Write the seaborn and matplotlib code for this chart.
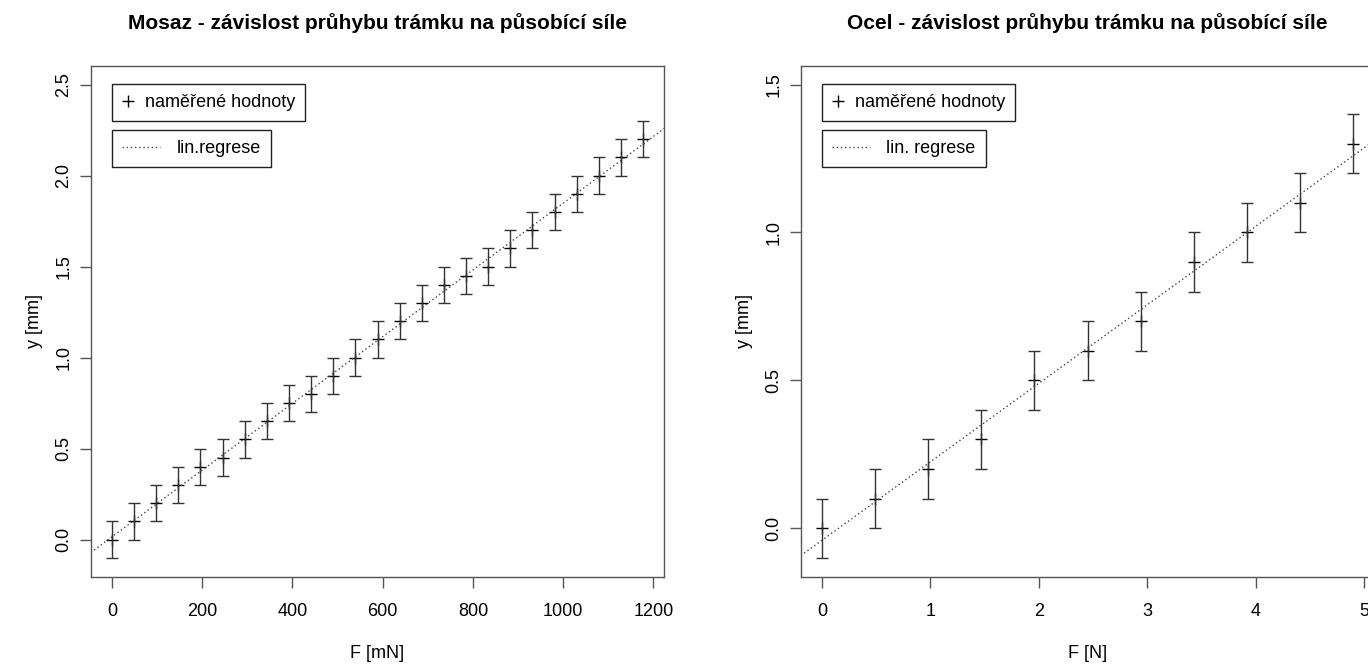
import numpy as np
import pandas as pd
import matplotlib
matplotlib.use("Agg")
import matplotlib.pyplot as plt
from matplotlib.lines import Line2D
import seaborn as sns

brass_F = [0, 49.05, 98.10, 147.15, 196.20, 245.25, 294.30, 343.35, 392.40, 441.45,
           490.50, 539.55, 588.60, 637.65, 686.70, 735.75, 784.80, 833.85, 882.90,
           931.95, 981.00, 1030.05, 1079.10, 1128.15, 1177.20]
brass_y = [0.0, 0.1, 0.2, 0.3, 0.4, 0.45, 0.55, 0.65, 0.75, 0.8, 0.9, 1.0, 1.1, 1.2,
           1.3, 1.4, 1.45, 1.5, 1.6, 1.7, 1.8, 1.9, 2.0, 2.1, 2.2]
steel_F = [0, 0.49, 0.98, 1.47, 1.96, 2.45, 2.94, 3.43, 3.92, 4.41, 4.90]
steel_y = [0.0, 0.1, 0.2, 0.3, 0.5, 0.6, 0.7, 0.9, 1.0, 1.1, 1.3]
y_err = 0.1

brass_xticks = [0, 200, 400, 600, 800, 1000, 1200]
brass_yticks = [0.0, 0.5, 1.0, 1.5, 2.0, 2.5]
steel_xticks = [0, 1, 2, 3, 4, 5]
steel_yticks = [0.0, 0.5, 1.0, 1.5]

sns.set_theme(style="white")
plt.rcParams['font.family'] = ['Liberation Sans', 'DejaVu Sans']
plt.rcParams['text.color'] = 'black'
plt.rcParams['axes.labelcolor'] = 'black'

AX_COL = '#555555'
W, H = 1368, 664
FS = 13


def panel(ax, F, y, title, xlab, leg_text, xticks, yticks, ylim):
    df = pd.DataFrame({'F': F, 'y': y})
    ax.errorbar(df['F'], df['y'], yerr=y_err, fmt='none', ecolor='#333333',
                elinewidth=1.0, capsize=4.3, capthick=1.0)
    sns.scatterplot(data=df, x='F', y='y', marker='+', color='black', s=70,
                    linewidth=1.0, ax=ax, legend=False)
    # linear regression line drawn across the whole axes
    k, q = np.polyfit(df['F'], df['y'], 1)
    ax.axline((0, q), slope=k, color='#444444', lw=1.0, linestyle=(0, (1, 2)))

    span = max(F) - min(F)
    ax.set_xlim(min(F) - 0.04 * span, max(F) + 0.04 * span)
    yspan = ylim[1] - ylim[0]
    ax.set_ylim(ylim[0] - 0.04 * yspan, ylim[1] + 0.04 * yspan)
    ax.set_xticks(xticks)
    ax.set_yticks(yticks)
    ax.set_xticklabels([str(t) for t in xticks])
    ax.set_yticklabels(['%.1f' % t for t in yticks], rotation=90, va='center')

    for s in ax.spines.values():
        s.set_color(AX_COL)
        s.set_linewidth(1.0)
    ax.tick_params(axis='both', direction='out', length=7.7, width=1.0,
                   color=AX_COL, labelsize=FS, labelcolor='black',
                   bottom=True, left=True)
    ax.tick_params(axis='x', pad=11)
    ax.tick_params(axis='y', pad=5.6)

    ax.set_xlabel(xlab, fontsize=FS)
    ax.set_ylabel('y [mm]', fontsize=FS)
    ax.xaxis.set_label_coords(0.5, -77 / 511)
    ax.xaxis.label.set_va('center')
    ax.yaxis.set_label_coords(-56 / 574, 0.5)
    ax.yaxis.label.set_va('center')
    ax.set_title(title, fontsize=15, fontweight='bold', y=1 + 43 / 511,
                 va='center', pad=0, color='black')

    h1 = Line2D([], [], marker='+', linestyle='none', color='black',
                markersize=9, markeredgewidth=1.0)
    h2 = Line2D([], [], color='#444444', lw=1.0, linestyle=(0, (1, 2)))
    leg1 = ax.legend([h1], ['naměřené hodnoty'], loc='upper left',
                     bbox_to_anchor=(21 / 574, 1 - 18.6 / 511), borderaxespad=0,
                     fancybox=False, framealpha=1, edgecolor='#222222',
                     fontsize=FS, handlelength=0.67, handletextpad=0.6,
                     borderpad=0.55)
    leg1.get_frame().set_linewidth(1.0)
    ax.add_artist(leg1)
    leg2 = ax.legend([h2], [leg_text], loc='upper left',
                     bbox_to_anchor=(21 / 574, 1 - 64.3 / 511), borderaxespad=0,
                     fancybox=False, framealpha=1, edgecolor='#222222',
                     fontsize=FS, handlelength=2.1, handletextpad=0.93,
                     borderpad=0.55)
    leg2.get_frame().set_linewidth(1.0)


fig = plt.figure(figsize=(W / 100, H / 100), dpi=100)
ax1 = fig.add_axes([90.7 / W, 1 - 576.7 / H, 573.6 / W, 511 / H])
ax2 = fig.add_axes([800.7 / W, 1 - 576.7 / H, 573.6 / W, 511 / H])

panel(ax1, brass_F, brass_y, 'Mosaz - závislost průhybu trámku na působící síle',
      'F [mN]', 'lin.regrese', brass_xticks, brass_yticks, (-0.1, 2.5))
panel(ax2, steel_F, steel_y, 'Ocel - závislost průhybu trámku na působící síle',
      'F [N]', 'lin. regrese', steel_xticks, steel_yticks, (-0.1, 1.5))

fig.savefig('out.png', dpi=100, facecolor='white')
